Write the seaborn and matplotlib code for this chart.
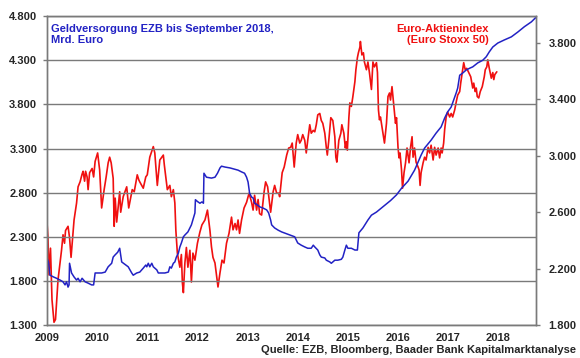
import numpy as np
import pandas as pd
import matplotlib
matplotlib.use('Agg')
import matplotlib.pyplot as plt
from matplotlib.ticker import FuncFormatter
import seaborn as sns

# ECB liquidity (Mrd. Euro), left axis
ezb_t = [2009.0, 2009.03, 2009.06, 2009.13, 2009.19, 2009.26, 2009.32, 2009.36, 2009.39, 2009.42,
         2009.44, 2009.45, 2009.49, 2009.54, 2009.59, 2009.62, 2009.66, 2009.70, 2009.76, 2009.82,
         2009.89, 2009.93, 2009.96, 2010.02, 2010.09, 2010.16, 2010.22, 2010.29, 2010.32, 2010.35,
         2010.41, 2010.45, 2010.49, 2010.55, 2010.62, 2010.69, 2010.72, 2010.79, 2010.85, 2010.92,
         2010.97, 2010.99, 2011.02, 2011.05, 2011.09, 2011.12, 2011.19, 2011.22, 2011.28, 2011.35,
         2011.42, 2011.45, 2011.48, 2011.52, 2011.55, 2011.58, 2011.62, 2011.65, 2011.68, 2011.72,
         2011.75, 2011.81, 2011.88, 2011.95, 2011.96, 2012.0, 2012.05, 2012.09, 2012.12, 2012.13,
         2012.18, 2012.28, 2012.35, 2012.40, 2012.45, 2012.48, 2012.55, 2012.65, 2012.75, 2012.81,
         2012.88, 2012.94, 2012.98, 2013.01, 2013.04, 2013.08, 2013.11, 2013.14, 2013.20, 2013.24,
         2013.31, 2013.38, 2013.42, 2013.46, 2013.48, 2013.54, 2013.61, 2013.68, 2013.75, 2013.84,
         2013.94, 2014.0, 2014.07, 2014.14, 2014.20, 2014.27, 2014.31, 2014.34, 2014.40, 2014.44,
         2014.47, 2014.54, 2014.57, 2014.64, 2014.67, 2014.70, 2014.74, 2014.80, 2014.87, 2014.90,
         2014.94, 2014.97, 2015.0, 2015.07, 2015.14, 2015.19, 2015.22, 2015.30, 2015.40, 2015.47,
         2015.57, 2015.70, 2015.85, 2015.97, 2016.07, 2016.20, 2016.33, 2016.46, 2016.53, 2016.66,
         2016.76, 2016.86, 2016.93, 2016.99, 2017.06, 2017.16, 2017.19, 2017.23, 2017.29, 2017.36,
         2017.43, 2017.49, 2017.59, 2017.69, 2017.76, 2017.82, 2017.89, 2017.99, 2018.12, 2018.26,
         2018.39, 2018.52, 2018.66, 2018.74]
ezb_v = [2060, 2015, 1865, 1845, 1830, 1810, 1790, 1755, 1790, 1730,
         1755, 2000, 1890, 1845, 1810, 1830, 1790, 1830, 1790, 1775,
         1755, 1755, 1890, 1890, 1890, 1900, 1960, 2000, 2070, 2090,
         2125, 2170, 2015, 1990, 1960, 1890, 1865, 1890, 1900, 1945,
         1980, 1960, 2000, 1960, 2000, 1960, 1925, 1890, 1890, 1890,
         1900, 1960, 1945, 2000, 2015, 2070, 2115, 2185, 2230, 2300,
         2320, 2355, 2435, 2570, 2720, 2700, 2680, 2695, 2680, 3020,
         2975, 2965, 2975, 3020, 3080, 3100, 3090, 3080, 3065, 3055,
         3035, 3020, 2975, 2920, 2795, 2750, 2740, 2680, 2660, 2640,
         2625, 2605, 2570, 2490, 2435, 2400, 2375, 2355, 2340, 2320,
         2300, 2230, 2205, 2185, 2170, 2170, 2205, 2185, 2150, 2095,
         2070, 2060, 2035, 2015, 2000, 2015, 2035, 2035, 2045, 2070,
         2150, 2205, 2170, 2170, 2150, 2150, 2345, 2400, 2490, 2545,
         2580, 2640, 2710, 2775, 2850, 2930, 3055, 3225, 3305, 3395,
         3475, 3545, 3645, 3715, 3770, 3930, 3985, 4130, 4155, 4190,
         4210, 4225, 4270, 4300, 4340, 4395, 4450, 4495, 4530, 4565,
         4620, 4680, 4735, 4780]

# Euro Stoxx 50, right axis
sx_t = [2009.0, 2009.02, 2009.04, 2009.07, 2009.10, 2009.14, 2009.17, 2009.22, 2009.29, 2009.32,
        2009.35, 2009.37, 2009.42, 2009.45, 2009.48, 2009.54, 2009.59, 2009.62, 2009.66, 2009.70,
        2009.72, 2009.75, 2009.77, 2009.80, 2009.82, 2009.85, 2009.90, 2009.93, 2009.96, 2010.01,
        2010.05, 2010.09, 2010.14, 2010.18, 2010.22, 2010.25, 2010.28, 2010.32, 2010.34, 2010.36,
        2010.39, 2010.45, 2010.47, 2010.52, 2010.59, 2010.63, 2010.70, 2010.74, 2010.80, 2010.83,
        2010.85, 2010.92, 2010.97, 2011.0, 2011.05, 2011.12, 2011.15, 2011.20, 2011.25, 2011.32,
        2011.34, 2011.40, 2011.45, 2011.48, 2011.52, 2011.55, 2011.57, 2011.60, 2011.65, 2011.68,
        2011.70, 2011.72, 2011.75, 2011.78, 2011.81, 2011.85, 2011.88, 2011.91, 2011.95, 2012.0,
        2012.05, 2012.09, 2012.15, 2012.20, 2012.25, 2012.28, 2012.31, 2012.35, 2012.38, 2012.41,
        2012.45, 2012.49, 2012.53, 2012.58, 2012.63, 2012.68, 2012.71, 2012.75, 2012.78, 2012.81,
        2012.84, 2012.88, 2012.93, 2012.98, 2013.03, 2013.08, 2013.11, 2013.14, 2013.18, 2013.21,
        2013.24, 2013.28, 2013.33, 2013.36, 2013.40, 2013.43, 2013.46, 2013.51, 2013.54, 2013.58,
        2013.62, 2013.64, 2013.69, 2013.73, 2013.78, 2013.82, 2013.86, 2013.89, 2013.93, 2013.97,
        2014.0, 2014.04, 2014.07, 2014.10, 2014.14, 2014.17, 2014.20, 2014.24, 2014.27, 2014.31,
        2014.34, 2014.37, 2014.40, 2014.44, 2014.47, 2014.50, 2014.54, 2014.57, 2014.59, 2014.62,
        2014.66, 2014.70, 2014.74, 2014.76, 2014.78, 2014.82, 2014.86, 2014.88, 2014.92, 2014.95,
        2014.97, 2014.99, 2015.02, 2015.04, 2015.07, 2015.10, 2015.14, 2015.16, 2015.19, 2015.21,
        2015.24, 2015.25, 2015.28, 2015.31, 2015.33, 2015.37, 2015.40, 2015.43, 2015.47, 2015.50,
        2015.53, 2015.57, 2015.59, 2015.61, 2015.63, 2015.65, 2015.68, 2015.71, 2015.73, 2015.77,
        2015.80, 2015.83, 2015.85, 2015.88, 2015.92, 2015.95, 2015.97, 2016.0, 2016.02, 2016.04,
        2016.07, 2016.09, 2016.12, 2016.15, 2016.18, 2016.22, 2016.25, 2016.28, 2016.30, 2016.33,
        2016.36, 2016.40, 2016.42, 2016.44, 2016.46, 2016.50, 2016.53, 2016.56, 2016.60, 2016.63,
        2016.66, 2016.70, 2016.73, 2016.76, 2016.80, 2016.83, 2016.86, 2016.88, 2016.91, 2016.93,
        2016.96, 2016.99, 2017.03, 2017.06, 2017.09, 2017.13, 2017.16, 2017.19, 2017.23, 2017.25,
        2017.28, 2017.31, 2017.34, 2017.37, 2017.41, 2017.45, 2017.49, 2017.51, 2017.54, 2017.56,
        2017.58, 2017.61, 2017.64, 2017.68, 2017.72, 2017.74, 2017.77, 2017.79, 2017.82, 2017.86,
        2017.89, 2017.91, 2017.93, 2017.97]
sx_v = [2530, 2420, 2155, 2345, 1980, 1820, 1840, 2120, 2330, 2440,
        2380, 2470, 2500, 2420, 2280, 2545, 2665, 2780, 2815, 2870,
        2890, 2820, 2890, 2850, 2760, 2880, 2910, 2850, 2960, 3020,
        2900, 2630, 2760, 2850, 2950, 2990, 2950, 2840, 2500, 2700,
        2530, 2745, 2600, 2710, 2780, 2630, 2760, 2745, 2865, 2830,
        2815, 2770, 2850, 2865, 2990, 3065, 3020, 2790, 2970, 3005,
        2935, 2760, 2790, 2710, 2760, 2665, 2470, 2310, 2210, 2300,
        2100, 2030, 2240, 2350, 2210, 2330, 2105, 2310, 2260, 2380,
        2460, 2510, 2545, 2615, 2470, 2355, 2280, 2240, 2155, 2070,
        2170, 2260, 2240, 2380, 2450, 2565, 2475, 2520, 2475, 2545,
        2450, 2545, 2630, 2670, 2735, 2670, 2615, 2720, 2615, 2690,
        2590, 2580, 2745, 2815, 2780, 2690, 2600, 2745, 2790, 2735,
        2735, 2710, 2880, 2920, 3005, 3055, 3060, 3090, 2920, 3090,
        3150, 3090, 3110, 3150, 3110, 3020, 3110, 3220, 3160, 3180,
        3170, 3220, 3290, 3300, 3250, 3230, 3160, 3060, 3005, 3110,
        3270, 3250, 3135, 2990, 2955, 3110, 3160, 3220, 3160, 3055,
        3100, 3040, 3270, 3375, 3350, 3420, 3525, 3610, 3695, 3730,
        3770, 3810, 3715, 3730, 3665, 3610, 3665, 3590, 3470, 3665,
        3630, 3660, 3590, 3325, 3255, 3275, 3205, 3135, 3090, 3230,
        3420, 3445, 3395, 3490, 3340, 3230, 3270, 3060, 2985, 3020,
        2900, 2770, 2880, 2950, 3055, 2950, 3060, 3135, 2990, 3055,
        2955, 2920, 2900, 2790, 2880, 2950, 2990, 2970, 3060, 3020,
        3075, 2970, 3060, 3005, 3055, 2985, 3055, 3020, 3090, 3185,
        3275, 3310, 3275, 3300, 3275, 3325, 3380, 3430, 3455, 3515,
        3590, 3660, 3610, 3620, 3590, 3560, 3480, 3515, 3455, 3480,
        3420, 3410, 3455, 3490, 3560, 3610, 3630, 3680, 3620, 3550,
        3590, 3540, 3575, 3595]

year_ticks = list(range(2009, 2019))
left_ticks = [1300, 1800, 2300, 2800, 3300, 3800, 4300, 4800]
right_ticks = [1800, 2200, 2600, 3000, 3400, 3800]

ezb = pd.DataFrame({'t': ezb_t, 'v': ezb_v})
sx = pd.DataFrame({'t': sx_t, 'v': sx_v})

sns.set_style('white')
plt.rcParams['font.family'] = ['Liberation Sans', 'DejaVu Sans']
plt.rcParams['font.weight'] = 'bold'

blue = '#2222c4'
red = '#f01010'
grey = '#7a7a7a'

fig = plt.figure(figsize=(5.8, 3.58), dpi=100)
ax = fig.add_axes([0.081, 0.092, 0.843, 0.863])
ax2 = ax.twinx()

sns.lineplot(data=sx, x='t', y='v', ax=ax2, color=red, linewidth=1.2, estimator=None, sort=False)
sns.lineplot(data=ezb, x='t', y='v', ax=ax, color=blue, linewidth=1.1, estimator=None, sort=False)

# blue line drawn above the red one like in the reference
ax.set_zorder(ax2.get_zorder() + 1)
ax.patch.set_visible(False)

ax.set_xlim(2009.0, 2018.75)
ax.set_ylim(1300, 4800)
ax2.set_ylim(1800, 3990)
ax.set_xticks(year_ticks)
ax.set_yticks(left_ticks)
ax2.set_yticks(right_ticks)

fmt = FuncFormatter(lambda v, p: f"{v:,.0f}".replace(',', '.'))
ax.yaxis.set_major_formatter(fmt)
ax2.yaxis.set_major_formatter(fmt)

ax.grid(axis='y', color=grey, linewidth=1.0)
ax.set_axisbelow(True)
ax.set_xlabel('')
ax.set_ylabel('')
ax2.set_xlabel('')
ax2.set_ylabel('')

for a in (ax, ax2):
    for s in a.spines.values():
        s.set_color(grey)
        s.set_linewidth(1.0)
    a.tick_params(length=3, width=1, color=grey, labelsize=8, pad=3)
ax.tick_params(axis='y', pad=4)
ax2.tick_params(axis='y', pad=6)

ax.text(0.008, 0.975, 'Geldversorgung EZB bis September 2018,\nMrd. Euro', transform=ax.transAxes,
        color=blue, fontsize=8, fontweight='bold', va='top', ha='left', linespacing=1.1)
ax.text(0.904, 0.975, 'Euro-Aktienindex\n(Euro Stoxx 50)', transform=ax.transAxes,
        color=red, fontsize=8, fontweight='bold', va='top', ha='right', linespacing=1.1)
fig.text(0.993, 0.022, 'Quelle: EZB, Bloomberg, Baader Bank Kapitalmarktanalyse',
         ha='right', va='center', fontsize=8, fontweight='bold')

fig.savefig('out.png', dpi=100)
